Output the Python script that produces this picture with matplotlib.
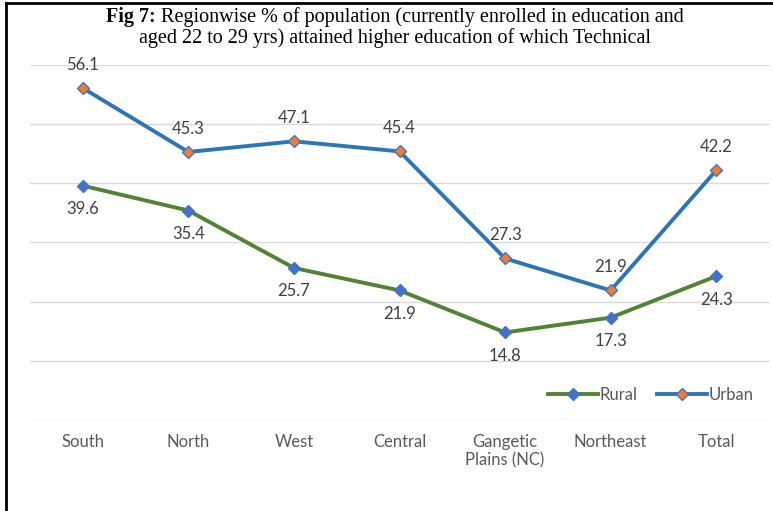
import matplotlib.pyplot as plt
from matplotlib.lines import Line2D

# Data
regions = ['South', 'North', 'West', 'Central', 'Gangetic\nPlains (NC)', 'Northeast', 'Total']
rural = [39.6, 35.4, 25.7, 21.9, 14.8, 17.3, 24.3]
urban = [56.1, 45.3, 47.1, 45.4, 27.3, 21.9, 42.2]

plt.rcParams['font.family'] = ['Lato', 'DejaVu Sans']

fig = plt.figure(figsize=(7.73, 5.11), dpi=100)
ax = fig.add_axes([30 / 773, 91 / 511, 739 / 773, 355 / 511])

x = list(range(len(regions)))
ax.plot(x, rural, color='#548235', linewidth=2.8, marker='D', markersize=6,
        markerfacecolor='#4472C4', markeredgecolor='#4472C4', label='Rural')
ax.plot(x, urban, color='#2E75B6', linewidth=2.8, marker='D', markersize=6,
        markerfacecolor='#ED7D31', markeredgecolor='#4472C4', label='Urban')

# Data labels
for i, v in enumerate(urban):
    ax.annotate(f'{v:.1f}', (i, v), xytext=(0, 11), textcoords='offset points',
                ha='center', va='bottom', fontsize=12, color='#404040')
for i, v in enumerate(rural):
    ax.annotate(f'{v:.1f}', (i, v), xytext=(0, -11), textcoords='offset points',
                ha='center', va='top', fontsize=12, color='#404040')

ax.set_xlim(-0.5, len(regions) - 0.5)
ax.set_ylim(0, 60)
ax.set_yticks(range(0, 61, 10))
ax.set_yticklabels([])
ax.set_xticks(x)
ax.set_xticklabels(regions, fontsize=12, color='#595959', linespacing=1.2)
ax.tick_params(axis='both', length=0)
ax.tick_params(axis='x', pad=10)
ax.grid(axis='y', color='#D9D9D9', linewidth=1)
ax.set_axisbelow(True)
for s in ax.spines.values():
    s.set_visible(False)

ax.legend(loc='lower right', bbox_to_anchor=(1.0, 0.005), ncol=2, frameon=False,
          fontsize=12, labelcolor='#595959', handlelength=3.0, handletextpad=0.1,
          columnspacing=1.2)

# Title: bold "Fig 7:" followed by normal text, centred as one line
tsize = 14.5
tfont = 'Liberation Serif'
cx = 395 / 773
y1 = 1 - 17 / 511
y2 = 1 - 38 / 511
bold = fig.text(0, y1, 'Fig 7:', ha='left', va='center', fontsize=tsize,
                family=tfont, fontweight='bold')
rest = fig.text(0, y1, ' Regionwise % of population (currently enrolled in education and',
                ha='left', va='center', fontsize=tsize, family=tfont)
fig.canvas.draw()
r = fig.canvas.get_renderer()
wb = bold.get_window_extent(r).width / 773
wr = rest.get_window_extent(r).width / 773
x0 = cx - (wb + wr) / 2
bold.set_x(x0)
rest.set_x(x0 + wb)
fig.text(cx, y2, 'aged 22 to 29 yrs) attained higher education of which Technical',
         ha='center', va='center', fontsize=tsize, family=tfont)

# Frame (left and top edges)
fig.add_artist(Line2D([6 / 773, 6 / 773], [0, 1 - 3 / 511], color='black', linewidth=2,
                      transform=fig.transFigure))
fig.add_artist(Line2D([6 / 773, 1], [1 - 3 / 511, 1 - 3 / 511], color='black', linewidth=2,
                      transform=fig.transFigure))

fig.savefig('out.png', dpi=100)
